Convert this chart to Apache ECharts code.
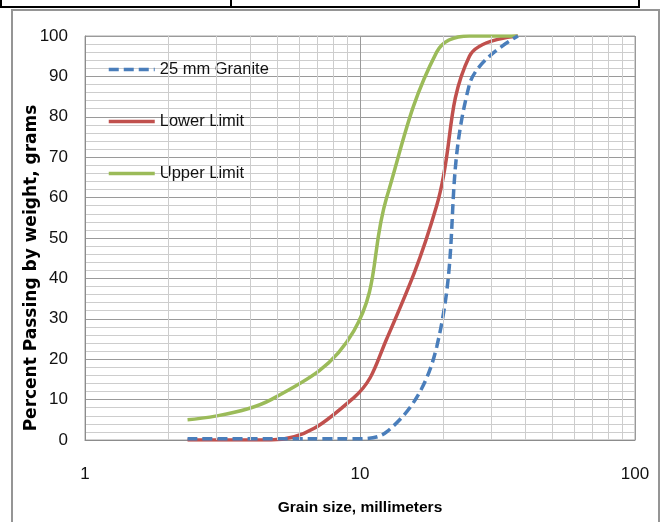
<!DOCTYPE html>
<html>
<head>
<meta charset="utf-8">
<style>
html,body{margin:0;padding:0;background:#fff;}
#chart{width:662px;height:522px;}
</style>
<script src="https://cdn.jsdelivr.net/npm/echarts@6/dist/echarts.min.js"></script>
</head>
<body>
<div id="chart"></div>
<script>
// ---- data ----
const sieveSizes = [2.36, 4.75, 9.5, 12.5, 19, 25, 37.5];
const granite25 = [0.3, 0.3, 0.3, 2, 23, 88, 100];
const lowerLimit = [0, 0, 10.5, 25, 58, 95, 100];
const upperLimit = [5, 10, 27, 60, 96, 100, 100];
const seriesNames = ['25 mm Granite', 'Lower Limit', 'Upper Limit'];
const xTickLabels = [1, 10, 100];
const minorXGrid = [2, 3, 4, 5, 6, 7, 8, 9, 20, 30, 40, 50, 60, 70, 80, 90];

const pairs = (ys) => sieveSizes.map((x, i) => [x, ys[i]]);

const chart = echarts.init(document.getElementById('chart'), null, {renderer: 'canvas'});
const labelFont = 'Liberation Sans, Arial, sans-serif';

chart.setOption({
  animation: false,
  backgroundColor: '#ffffff',
  grid: {left: 85, right: 27, top: 36, bottom: 82, show: true, borderColor: '#a6a6a6', borderWidth: 1},
  xAxis: {
    type: 'log', logBase: 10, min: 1, max: 100,
    name: 'Grain size, millimeters', nameLocation: 'middle', nameGap: 60,
    nameTextStyle: {fontFamily: labelFont, fontWeight: 'bold', fontSize: 15.5, color: '#000'},
    axisLine: {show: true, lineStyle: {color: '#8c8c8c', width: 1}},
    axisTick: {show: false},
    axisLabel: {margin: 26, fontFamily: labelFont, fontSize: 17, color: '#111',
      formatter: (v) => xTickLabels.indexOf(Math.round(v)) >= 0 ? String(Math.round(v)) : ''},
    splitLine: {show: true, lineStyle: {color: '#9a9a9a', width: 1}},
    minorTick: {show: false}
  },
  yAxis: {
    type: 'value', min: 0, max: 100, interval: 10,
    axisLine: {show: true, lineStyle: {color: '#8c8c8c', width: 1}},
    axisTick: {show: false},
    axisLabel: {margin: 17, fontFamily: labelFont, fontSize: 17, color: '#111'},
    splitLine: {show: true, lineStyle: {color: '#9a9a9a', width: 1}},
    minorTick: {show: false, splitNumber: 5},
    minorSplitLine: {show: true, lineStyle: {color: '#cdcdcd', width: 1}}
  },
  legend: {
    data: seriesNames,
    orient: 'vertical', left: 102, top: 56,
    itemWidth: 46, itemHeight: 17, itemGap: 35,
    itemStyle: {opacity: 0},
    lineStyle: {width: 3.5},
    textStyle: {fontFamily: labelFont, fontSize: 16.5, color: '#111', lineHeight: 17}
  },
  graphic: [
    {type: 'rect', shape: {x: 12, y: 10, width: 647, height: 540},
      style: {fill: 'none', stroke: '#959595', lineWidth: 2}, z: 0, silent: true},
    {type: 'line', shape: {x1: 0, y1: 7, x2: 640, y2: 7}, style: {stroke: '#000', lineWidth: 2}, silent: true},
    {type: 'line', shape: {x1: 1, y1: 0, x2: 1, y2: 7}, style: {stroke: '#000', lineWidth: 2}, silent: true},
    {type: 'line', shape: {x1: 231, y1: 0, x2: 231, y2: 7}, style: {stroke: '#000', lineWidth: 2}, silent: true},
    {type: 'line', shape: {x1: 639, y1: 0, x2: 639, y2: 7}, style: {stroke: '#000', lineWidth: 2}, silent: true},
    {type: 'text', x: 32, y: 268, rotation: Math.PI / 2,
      style: {text: 'Percent Passing by weight, grams', fontFamily: 'DejaVu Sans, sans-serif', fontWeight: 'bold',
        fontSize: 17, fill: '#000', align: 'center', verticalAlign: 'middle'}, silent: true}
  ],
  series: [
    {
      name: 'minorgrid', type: 'line', data: [], silent: true, z: 1,
      markLine: {silent: true, symbol: 'none', label: {show: false},
        lineStyle: {color: '#cdcdcd', width: 1, type: 'solid'},
        data: minorXGrid.map(v => ({xAxis: v}))}
    },
    {
      name: seriesNames[1], type: 'line', data: pairs(lowerLimit), smooth: 0.4, symbol: 'none', z: 3,
      lineStyle: {color: '#c0504d', width: 3.5}, itemStyle: {color: '#c0504d'}
    },
    {
      name: seriesNames[2], type: 'line', data: pairs(upperLimit), smooth: 0.4, symbol: 'none', z: 3,
      lineStyle: {color: '#9bbb59', width: 3.5}, itemStyle: {color: '#9bbb59'}
    },
    {
      name: seriesNames[0], type: 'line', data: pairs(granite25), smooth: 0.4, symbol: 'none', z: 4,
      lineStyle: {color: '#4a7ebb', width: 3.5, type: [10, 5]}, itemStyle: {color: '#4a7ebb'}
    }
  ]
});
</script>
</body>
</html>
